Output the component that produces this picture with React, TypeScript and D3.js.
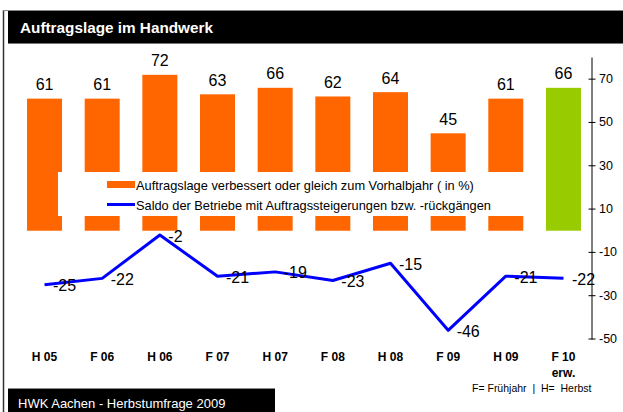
import React from "react";
import * as d3 from "d3";

const categories = ["H 05", "F 06", "H 06", "F 07", "H 07", "F 08", "H 08", "F 09", "H 09", "F 10"];
const barValues = [61, 61, 72, 63, 66, 62, 64, 45, 61, 66];
const lineValues = [-25, -22, -2, -21, -19, -23, -15, -46, -21, -22];
const yTicks = [70, 50, 30, 10, -10, -30, -50];
const title = "Auftragslage im Handwerk";
const legendBar = "Auftragslage verbessert oder gleich zum Vorhalbjahr ( in %)";
const legendLine = "Saldo der Betriebe mit Auftragssteigerungen bzw. -rückgängen";
const footer = "HWK Aachen - Herbstumfrage 2009";
const note = "F= Frühjahr  |  H=  Herbst";

const W = 623;
const H = 412;
const FONT = "'Liberation Sans', Arial, sans-serif";

export default function App() {
  const x = d3
    .scaleBand<string>()
    .domain(categories)
    .range([15.7, 592.3])
    .paddingInner(0.393)
    .paddingOuter(0.1965);
  const y = d3.scaleLinear().domain([-50, 80]).range([339, 57.5]);
  const cx = (c: string) => (x(c) as number) + x.bandwidth() / 2;
  const line = d3
    .line<number>()
    .x((_, i) => cx(categories[i]))
    .y((d) => y(d));
  const axisX = 592;

  return (
    <svg
      width={W}
      height={H}
      style={{ position: "absolute", left: 0, top: 0, fontFamily: FONT }}
    >
      <rect x={0} y={0} width={W} height={H} fill="#fff" />
      {/* frame */}
      <line x1={3.5} y1={10} x2={3.5} y2={H} stroke="#333" strokeWidth={1.5} />
      <line x1={3} y1={10.5} x2={W} y2={10.5} stroke="#888" strokeWidth={1} />
      {/* title bar */}
      <rect x={8} y={11} width={W - 8} height={32} fill="#000" />
      <line x1={8} y1={43.5} x2={W} y2={43.5} stroke="#777" strokeWidth={1} />
      <text x={20} y={33} fill="#fff" fontSize={15.3} fontWeight="bold">
        {title}
      </text>

      {/* bars */}
      {barValues.map((v, i) => (
        <rect
          key={"b" + i}
          x={x(categories[i])}
          y={y(v)}
          width={x.bandwidth()}
          height={y(0) - y(v)}
          fill={i === categories.length - 1 ? "#99CC00" : "#FF6600"}
        />
      ))}
      {barValues.map((v, i) => (
        <text
          key={"bl" + i}
          x={cx(categories[i])}
          y={y(v) - 14}
          textAnchor="middle"
          dominantBaseline="central"
          fontSize={16}
          fill="#000"
        >
          {v}
        </text>
      ))}

      {/* legend */}
      <rect x={58} y={172} width={482} height={44} fill="#fff" />
      <rect x={107} y={181} width={28} height={7} fill="#FF6600" />
      <text x={136} y={185} dominantBaseline="central" fontSize={12.8} fill="#000">
        {legendBar}
      </text>
      <line x1={107} y1={204.5} x2={135} y2={204.5} stroke="#0000FF" strokeWidth={3} />
      <text x={136} y={205} dominantBaseline="central" fontSize={12.8} fill="#000">
        {legendLine}
      </text>

      {/* line */}
      <path d={line(lineValues) || ""} fill="none" stroke="#0000FF" strokeWidth={3} strokeLinejoin="round" />
      {lineValues.map((v, i) => (
        <text
          key={"ll" + i}
          x={cx(categories[i]) + 8.5}
          y={y(v) + 1}
          dominantBaseline="central"
          fontSize={16}
          fill="#000"
        >
          {v}
        </text>
      ))}

      {/* right axis */}
      <line x1={axisX} y1={57.5} x2={axisX} y2={339.5} stroke="#000" strokeWidth={1} />
      {yTicks.map((t) => (
        <g key={"t" + t}>
          <line x1={axisX - 3.5} x2={axisX + 3.5} y1={y(t)} y2={y(t)} stroke="#000" strokeWidth={1} />
          <text x={599} y={y(t)} dominantBaseline="central" fontSize={12.5} fill="#000">
            {t}
          </text>
        </g>
      ))}

      {/* category labels */}
      {categories.map((c) => (
        <text
          key={"c" + c}
          x={cx(c)}
          y={357}
          textAnchor="middle"
          dominantBaseline="central"
          fontSize={12}
          fontWeight="bold"
          fill="#000"
        >
          {c}
        </text>
      ))}
      <text
        x={cx(categories[categories.length - 1])}
        y={373}
        textAnchor="middle"
        dominantBaseline="central"
        fontSize={12}
        fontWeight="bold"
        fill="#000"
      >
        erw.
      </text>
      <text x={472} y={388} dominantBaseline="central" fontSize={10.5} fill="#000" style={{ whiteSpace: "pre" }}>
        {note}
      </text>

      {/* footer */}
      <rect x={8} y={389} width={267} height={H - 389} fill="#000" />
      <line x1={8} y1={388.5} x2={275} y2={388.5} stroke="#888" strokeWidth={1} />
      <text x={18} y={403} dominantBaseline="central" fontSize={13} fill="#fff">
        {footer}
      </text>
    </svg>
  );
}
